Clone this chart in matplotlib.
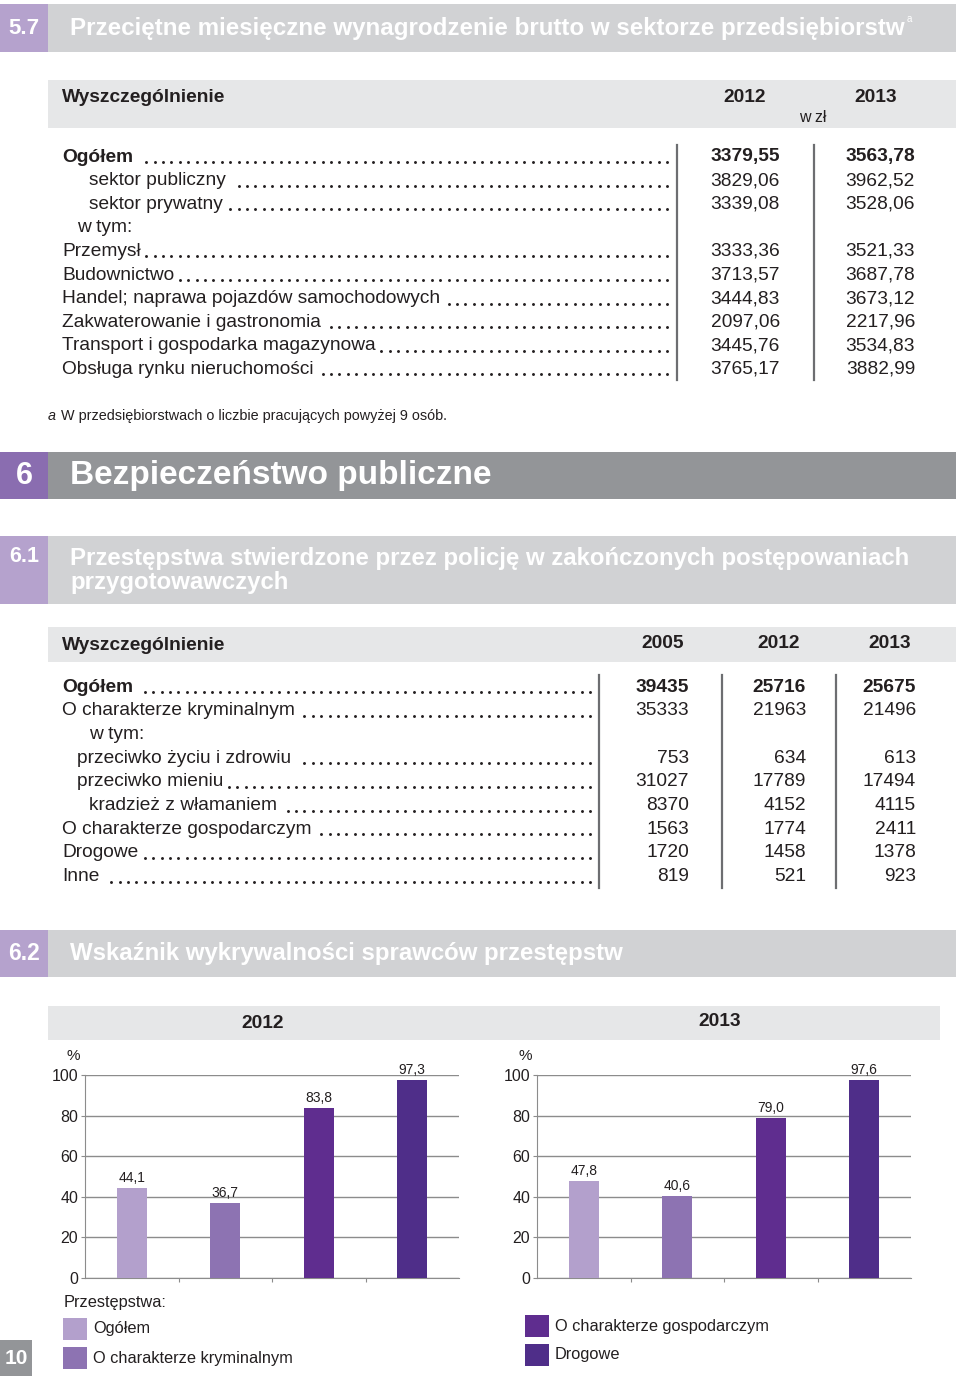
import matplotlib
matplotlib.use('Agg')
import matplotlib.pyplot as plt
from matplotlib.patches import Rectangle

plt.rcParams['font.family'] = ['Liberation Sans', 'DejaVu Sans']

# --- dane: tablica 5.7 (wynagrodzenia, w zł)
wage_labels = ['Ogółem', 'sektor publiczny', 'sektor prywatny', 'w tym:', 'Przemysł',
               'Budownictwo', 'Handel; naprawa pojazdów samochodowych',
               'Zakwaterowanie i gastronomia', 'Transport i gospodarka magazynowa',
               'Obsługa rynku nieruchomości']
wage_level = [0, 2, 2, 1, 0, 0, 0, 0, 0, 0]
wage_2012 = [3379.55, 3829.06, 3339.08, None, 3333.36, 3713.57, 3444.83, 2097.06, 3445.76, 3765.17]
wage_2013 = [3563.78, 3962.52, 3528.06, None, 3521.33, 3687.78, 3673.12, 2217.96, 3534.83, 3882.99]

# --- dane: tablica 6.1 (przestępstwa stwierdzone)
crime_labels = ['Ogółem', 'O charakterze kryminalnym', 'w tym:', 'przeciwko życiu i zdrowiu',
                'przeciwko mieniu', 'kradzież z włamaniem', 'O charakterze gospodarczym',
                'Drogowe', 'Inne']
crime_level = [0, 0, 2, 1, 1, 2, 0, 0, 0]
crime_2005 = [39435, 35333, None, 753, 31027, 8370, 1563, 1720, 819]
crime_2012 = [25716, 21963, None, 634, 17789, 4152, 1774, 1458, 521]
crime_2013 = [25675, 21496, None, 613, 17494, 4115, 2411, 1378, 923]

# --- dane: wykres 6.2 (wskaźnik wykrywalności, %)
det_categories = ['Ogółem', 'O charakterze kryminalnym', 'O charakterze gospodarczym', 'Drogowe']
det_2012 = [44.1, 36.7, 83.8, 97.3]
det_2013 = [47.8, 40.6, 79.0, 97.6]
det_colors = ['#b3a0cc', '#8d73b2', '#5f2d8f', '#4f2e89']

TXT = '#231f20'
GRID = '#8c8c8c'
FS = 13.8

fig = plt.figure(figsize=(9.6, 13.76), dpi=100)
page = fig.add_axes([0, 0, 1, 1])
page.set_xlim(0, 960)
page.set_ylim(1376, 0)
page.axis('off')
renderer = fig.canvas.get_renderer()


def pl(v, nd):
    return f'{v:.{nd}f}'.replace('.', ',')


def band(y0, y1, num, lines, box_col, bar_col, fs, num_fs, line_gap=24):
    page.add_patch(Rectangle((0, y0), 48, y1 - y0, color=box_col, lw=0))
    page.add_patch(Rectangle((48, y0), 908, y1 - y0, color=bar_col, lw=0))
    yc = (y0 + y1) / 2
    if len(lines) > 1:
        ys = [y0 + 22 + i * line_gap for i in range(len(lines))]
        yn = ys[0] - 2
    else:
        ys = [yc]
        yn = yc
    page.text(24, yn, num, color='white', fontsize=num_fs, fontweight='bold',
              ha='center', va='center')
    out = []
    for t, y in zip(lines, ys):
        out.append(page.text(70, y, t, color='white', fontsize=fs, fontweight='bold',
                             ha='left', va='center'))
    return out


def leader(text_obj, x_end, y):
    # kropki na stałej siatce liczonej od prawej krawędzi
    x_start = text_obj.get_window_extent(renderer).x1 + 5
    xs = []
    x = x_end
    while x >= x_start:
        xs.append(x)
        x -= 8.4
    page.plot(xs, [y] * len(xs), ls='none', marker='o', ms=2.1, mew=0, color=TXT)


# ================= 5.7 =================
t57 = band(4, 52, '5.7', ['Przeciętne miesięczne wynagrodzenie brutto w sektorze przedsiębiorstw'],
           '#b5a2cd', '#d1d2d4', 17.4, 16)
xa = t57[0].get_window_extent(renderer).x1 + 2
page.text(xa, 19, 'a', color='white', fontsize=7, ha='left', va='center')

page.add_patch(Rectangle((48, 80), 908, 48, color='#e6e7e8', lw=0))
page.text(62, 97, 'Wyszczególnienie', fontsize=FS, fontweight='bold', color=TXT, va='center')
page.text(745, 97, '2012', fontsize=FS, fontweight='bold', color=TXT, va='center', ha='center')
page.text(876, 97, '2013', fontsize=FS, fontweight='bold', color=TXT, va='center', ha='center')
page.text(813, 118, 'w zł', fontsize=11.5, color=TXT, va='center', ha='center')

indent = {0: 62, 1: 77, 2: 89}
y_rows = [157 + i * 23.6 for i in range(len(wage_labels))]
for lab, lev, a, b, y in zip(wage_labels, wage_level, wage_2012, wage_2013, y_rows):
    w = 'bold' if lab == 'Ogółem' else 'normal'
    t = page.text(indent[lev], y, lab, fontsize=FS, fontweight=w, color=TXT, va='center')
    if a is None:
        continue
    leader(t, 667, y + 5)
    page.text(780, y, pl(a, 2), fontsize=FS, fontweight=w, color=TXT, va='center', ha='right')
    page.text(915, y, pl(b, 2), fontsize=FS, fontweight=w, color=TXT, va='center', ha='right')
for xv in (677, 814):
    page.plot([xv, xv], [145, 380], color='#6d6e71', lw=1.6)

page.text(48, 416, 'a', fontsize=10.4, style='italic', color=TXT, va='center')
page.text(61, 416, 'W przedsiębiorstwach o liczbie pracujących powyżej 9 osób.',
          fontsize=10.4, color=TXT, va='center')

# ================= 6 =================
band(452, 499, '6', ['Bezpieczeństwo publiczne'], '#8a6db0', '#939598', 24, 22)

# ================= 6.1 =================
band(536, 604, '6.1', ['Przestępstwa stwierdzone przez policję w zakończonych postępowaniach',
                       'przygotowawczych'], '#b5a2cd', '#d1d2d4', 17.3, 15.5)

page.add_patch(Rectangle((48, 627), 908, 35, color='#e6e7e8', lw=0))
page.text(62, 645, 'Wyszczególnienie', fontsize=FS, fontweight='bold', color=TXT, va='center')
for yr, xc in zip(['2005', '2012', '2013'], [663, 779, 890]):
    page.text(xc, 644, yr, fontsize=FS, fontweight='bold', color=TXT, va='center', ha='center')

y_rows = [687 + i * 23.7 for i in range(len(crime_labels))]
for i, (lab, lev, y) in enumerate(zip(crime_labels, crime_level, y_rows)):
    w = 'bold' if lab == 'Ogółem' else 'normal'
    t = page.text(indent[lev], y, lab, fontsize=FS, fontweight=w, color=TXT, va='center')
    if crime_2005[i] is None:
        continue
    leader(t, 590, y + 5)
    for vals, xr in zip([crime_2005, crime_2012, crime_2013], [689, 806, 916]):
        page.text(xr, y, str(vals[i]), fontsize=FS, fontweight=w, color=TXT,
                  va='center', ha='right')
for xv in (599, 722, 836):
    page.plot([xv, xv], [675, 888], color='#6d6e71', lw=1.6)

# ================= 6.2 =================
band(930, 977, '6.2', ['Wskaźnik wykrywalności sprawców przestępstw'],
     '#b5a2cd', '#d1d2d4', 17.3, 16.5)

page.add_patch(Rectangle((48, 1006), 892, 34, color='#e6e7e8', lw=0))
page.text(263, 1023, '2012', fontsize=FS, fontweight='bold', color=TXT, va='center', ha='center')
page.text(720, 1022, '2013', fontsize=FS, fontweight='bold', color=TXT, va='center', ha='center')


def bar_panel(left, right, values):
    ax = fig.add_axes([left / 960, (1376 - 1278) / 1376, (right - left) / 960, (1278 - 1075) / 1376])
    x = list(range(len(values)))
    ax.bar(x, values, width=0.32, color=det_colors, zorder=3)
    ax.set_xlim(-0.5, len(values) - 0.5)
    ax.set_ylim(0, 100)
    ax.set_yticks(range(0, 101, 20))
    ax.yaxis.grid(True, color=GRID, lw=1)
    ax.set_axisbelow(True)
    for s in ('top', 'right'):
        ax.spines[s].set_visible(False)
    for s in ('left', 'bottom'):
        ax.spines[s].set_color(GRID)
    ax.set_xticks([0.5, 1.5, 2.5])
    ax.set_xticklabels([])
    ax.tick_params(axis='x', length=3, color=GRID)
    ax.tick_params(axis='y', length=3, color=GRID, labelsize=11.5, labelcolor=TXT, pad=2)
    for xi, v in zip(x, values):
        ax.text(xi, v + 1.5, pl(v, 1), ha='center', va='bottom', fontsize=10, color=TXT)
    page.text(left - 12, 1056, '%', fontsize=11, color=TXT, ha='center', va='center')
    return ax


bar_panel(85, 459, det_2012)
bar_panel(537, 911, det_2013)

# legenda
page.text(64, 1303, 'Przestępstwa:', fontsize=11.8, color=TXT, va='center')
legend_pos = [(63, 1318), (63, 1347), (525, 1315), (525, 1344)]
for cat, col, (lx, ly) in zip(det_categories, det_colors, legend_pos):
    page.add_patch(Rectangle((lx, ly), 24, 22, color=col, lw=0))
    page.text(lx + 30, ly + 11, cat, fontsize=11.8, color=TXT, va='center')

# numer strony
page.add_patch(Rectangle((0, 1340), 32, 36, color='#939598', lw=0))
page.text(16, 1358, '10', fontsize=15, fontweight='bold', color='white', ha='center', va='center')

fig.savefig('out.png', dpi=100)
